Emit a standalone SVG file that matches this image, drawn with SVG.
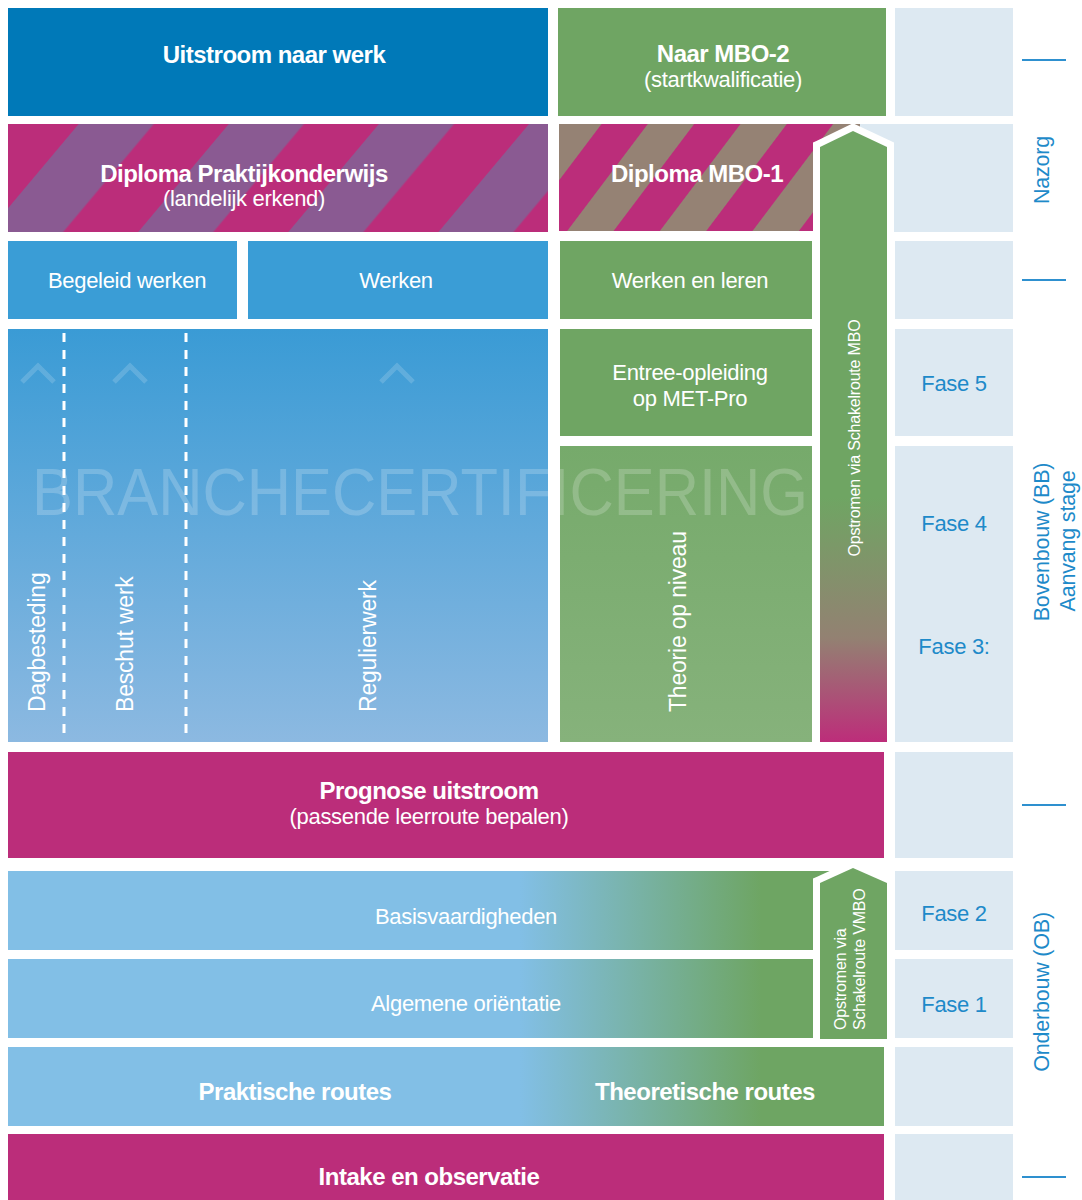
<svg xmlns="http://www.w3.org/2000/svg" width="1082" height="1200" viewBox="0 0 1082 1200">
<style>
.t{font-family:"Liberation Sans",Arial,sans-serif;fill:#fff;text-anchor:middle}
.b{font-weight:bold;font-size:24px;letter-spacing:-0.5px}
.r{font-size:22px;letter-spacing:-0.3px}
.rv{font-size:23px;letter-spacing:-0.2px;text-anchor:start}
.sm{font-size:16px;letter-spacing:-0.2px}
.lbl{fill:#1E8AC9;font-size:22px;letter-spacing:-0.3px}
.side{fill:#1E8AC9;font-size:21.5px;letter-spacing:-0.2px}
.lb{fill:#DDE9F2}
.tick{stroke:#2E90CF;stroke-width:2}
.dash{stroke:#fff;stroke-width:3;stroke-dasharray:9 8}
.chev{fill:none;stroke:#fff;stroke-opacity:0.16;stroke-width:5}
.arrow{stroke:#fff;stroke-width:14;paint-order:stroke;stroke-linejoin:miter}
</style>
<defs>
<pattern id="stripeP" patternUnits="userSpaceOnUse" width="115" height="200" patternTransform="rotate(40) translate(25,0)">
<rect x="0" y="0" width="115" height="200" fill="#BB2D7A"/>
<rect x="0" y="0" width="57.5" height="200" fill="#8A5A92"/>
</pattern>
<pattern id="stripeM" patternUnits="userSpaceOnUse" width="74" height="200" patternTransform="rotate(37)">
<rect x="0" y="0" width="74" height="200" fill="#BB2D7A"/>
<rect x="0" y="0" width="37" height="200" fill="#958274"/>
</pattern>
<linearGradient id="gBlue" gradientUnits="userSpaceOnUse" x1="0" y1="329" x2="0" y2="742">
<stop offset="0" stop-color="#3A9BD5"/>
<stop offset="1" stop-color="#8CB9E1"/>
</linearGradient>
<linearGradient id="gTheo" gradientUnits="userSpaceOnUse" x1="0" y1="446" x2="0" y2="742">
<stop offset="0" stop-color="#76AA6B"/>
<stop offset="1" stop-color="#86B27B"/>
</linearGradient>
<linearGradient id="gRow" gradientUnits="userSpaceOnUse" x1="8" y1="0" x2="884" y2="0">
<stop offset="0.584" stop-color="#82BFE6"/>
<stop offset="0.86" stop-color="#6EA563"/>
</linearGradient>
<linearGradient id="gMbo" gradientUnits="userSpaceOnUse" x1="0" y1="131" x2="0" y2="742">
<stop offset="0.6" stop-color="#6FA563"/>
<stop offset="0.83" stop-color="#938172"/>
<stop offset="1" stop-color="#BD2D7A"/>
</linearGradient>
</defs>

<g id="side-column">
<rect class="lb" x="895" y="8" width="118" height="108"/>
<rect class="lb" x="860" y="124" width="153" height="108"/>
<rect class="lb" x="895" y="241" width="118" height="78"/>
<rect class="lb" x="895" y="329" width="118" height="107"/>
<rect class="lb" x="895" y="446" width="118" height="296"/>
<rect class="lb" x="895" y="752" width="118" height="106"/>
<rect class="lb" x="895" y="871" width="118" height="79"/>
<rect class="lb" x="895" y="959" width="118" height="79"/>
<rect class="lb" x="895" y="1047" width="118" height="79"/>
<rect class="lb" x="895" y="1134" width="118" height="66"/>
<text class="t lbl" x="954" y="391">Fase 5</text>
<text class="t lbl" x="954" y="531">Fase 4</text>
<text class="t lbl" x="954" y="654">Fase 3:</text>
<text class="t lbl" x="954" y="921">Fase 2</text>
<text class="t lbl" x="954" y="1012">Fase 1</text>
</g>

<g id="phase-labels">
<line class="tick" x1="1022" y1="60" x2="1066" y2="60"/>
<line class="tick" x1="1022" y1="280" x2="1066" y2="280"/>
<line class="tick" x1="1022" y1="805" x2="1066" y2="805"/>
<line class="tick" x1="1022" y1="1177" x2="1066" y2="1177"/>
<text class="t side" transform="translate(1041,170) rotate(-90)" dy="0.35em">Nazorg</text>
<text class="t side" transform="translate(1041,542) rotate(-90)" dy="0.35em">Bovenbouw (BB)</text>
<text class="t side" transform="translate(1067,541) rotate(-90)" dy="0.35em">Aanvang stage</text>
<text class="t side" transform="translate(1041,992) rotate(-90)" dy="0.35em">Onderbouw (OB)</text>
</g>

<g id="uitstroom-werk">
<rect x="8" y="8" width="540" height="108" fill="#0079B8"/>
<text class="t b" x="274" y="63">Uitstroom naar werk</text>
</g>

<g id="naar-mbo2">
<rect x="558" y="8" width="328" height="108" fill="#6FA563"/>
<text class="t b" x="723" y="62">Naar MBO-2</text>
<text class="t r" x="723" y="87">(startkwalificatie)</text>
</g>

<g id="diploma-pro">
<rect x="8" y="124" width="540" height="108" fill="url(#stripeP)"/>
<text class="t b" x="244" y="182">Diploma Praktijkonderwijs</text>
<text class="t r" x="244" y="206">(landelijk erkend)</text>
</g>

<g id="diploma-mbo1">
<rect x="559" y="124" width="301" height="107" fill="url(#stripeM)"/>
<text class="t b" x="697" y="182">Diploma MBO-1</text>
</g>

<g id="begeleid-werken">
<rect x="8" y="241" width="229" height="78" fill="#3A9DD6"/>
<text class="t r" x="127" y="288">Begeleid werken</text>
</g>

<g id="werken">
<rect x="248" y="241" width="300" height="78" fill="#3A9DD6"/>
<text class="t r" x="396" y="288">Werken</text>
</g>

<g id="werken-leren">
<rect x="560" y="241" width="252" height="78" fill="#6FA563"/>
<text class="t r" x="690" y="288">Werken en leren</text>
</g>

<g id="entree">
<rect x="560" y="329" width="252" height="107" fill="#6FA563"/>
<text class="t r" x="690" y="380">Entree-opleiding</text>
<text class="t r" x="690" y="406">op MET-Pro</text>
</g>

<g id="uitstroom-routes">
<rect x="8" y="329" width="540" height="413" fill="url(#gBlue)"/>
<line class="dash" x1="64" y1="333" x2="64" y2="740"/>
<line class="dash" x1="186" y1="333" x2="186" y2="740"/>
<polyline class="chev" points="22,382 38,366 54,382"/>
<polyline class="chev" points="114,382 130,366 146,382"/>
<polyline class="chev" points="381,382 397,366 413,382"/>
<text class="t rv" transform="translate(37,712) rotate(-90)" dy="0.35em">Dagbesteding</text>
<text class="t rv" transform="translate(125,712) rotate(-90)" dy="0.35em">Beschut werk</text>
<text class="t rv" transform="translate(368,712) rotate(-90)" dy="0.35em">Regulierwerk</text>
</g>

<g id="theorie-niveau">
<rect x="560" y="446" width="252" height="296" fill="url(#gTheo)"/>
<text class="t rv" transform="translate(678,712) rotate(-90)" dy="0.35em">Theorie op niveau</text>
</g>

<g id="branchecertificering">
<text x="32" y="515" font-family="Liberation Sans, Arial, sans-serif" font-size="67" fill="#fff" fill-opacity="0.2" textLength="776" lengthAdjust="spacingAndGlyphs">BRANCHECERTIFICERING</text>
</g>

<g id="schakelroute-mbo">
<polygon class="arrow" points="820,147 853,131 887,147 887,742 820,742" fill="url(#gMbo)"/>
<text class="t sm" transform="translate(854,438) rotate(-90)" dy="0.35em">Opstromen via Schakelroute MBO</text>
</g>

<g id="prognose">
<rect x="8" y="752" width="876" height="106" fill="#BB2D7A"/>
<text class="t b" x="429" y="799">Prognose uitstroom</text>
<text class="t r" x="429" y="824">(passende leerroute bepalen)</text>
</g>

<g id="basisvaardigheden">
<rect x="8" y="871" width="842" height="79" fill="url(#gRow)"/>
<text class="t r" x="466" y="924">Basisvaardigheden</text>
</g>

<g id="algemene-orientatie">
<rect x="8" y="959" width="805" height="79" fill="url(#gRow)"/>
<text class="t r" x="466" y="1011">Algemene oriëntatie</text>
</g>

<g id="schakelroute-vmbo">
<polygon class="arrow" points="820,883 853,868 887,883 887,1039 820,1039" fill="#6FA563"/>
<text class="t sm" transform="translate(840,1030) rotate(-90)" dy="0.35em" style="text-anchor:start">Opstromen via</text>
<text class="t sm" transform="translate(859,1030) rotate(-90)" dy="0.35em" style="text-anchor:start">Schakelroute VMBO</text>
</g>

<g id="routes">
<rect x="8" y="1047" width="876" height="79" fill="url(#gRow)"/>
<text class="t b" x="295" y="1100">Praktische routes</text>
<text class="t b" x="705" y="1100">Theoretische routes</text>
</g>

<g id="intake">
<rect x="8" y="1134" width="876" height="66" fill="#BB2D7A"/>
<text class="t b" x="429" y="1185">Intake en observatie</text>
</g>

<g id="connectors"></g>
</svg>
